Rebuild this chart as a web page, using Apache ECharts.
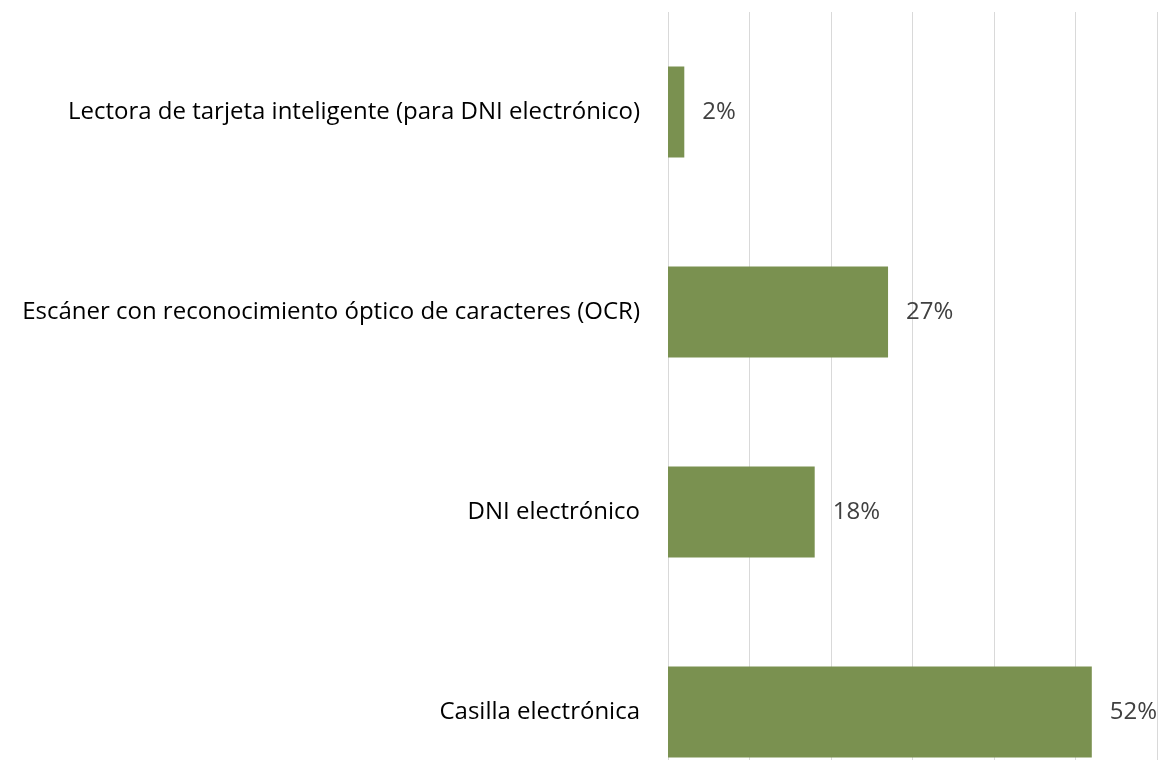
<!DOCTYPE html>
<html>
<head>
<meta charset="utf-8">
<script src="https://cdn.jsdelivr.net/npm/echarts@6/dist/echarts.min.js"></script>
<style>
  html, body { margin: 0; padding: 0; background: #ffffff; overflow: hidden; }
  #chart { width: 1167px; height: 812px; }
</style>
</head>
<body>
<div id="chart"></div>
<script>
// Categories (top to bottom) and their shares in percent
const categories = [
  'Lectora de tarjeta inteligente (para DNI electrónico)',
  'Escáner con reconocimiento óptico de caracteres (OCR)',
  'DNI electrónico',
  'Casilla electrónica'
];
const shares = [2, 27, 18, 52];

const chart = echarts.init(document.getElementById('chart'));
chart.setOption({
  animation: false,
  backgroundColor: '#ffffff',
  grid: { left: 668, right: 10, top: 12, bottom: 0, containLabel: false },
  xAxis: {
    type: 'value',
    min: 0,
    max: 60,
    interval: 10,
    axisLine: { show: false },
    axisTick: { show: false },
    axisLabel: { show: false },
    splitLine: { show: true, lineStyle: { color: '#d9d9d9', width: 1 } }
  },
  yAxis: {
    type: 'category',
    data: categories,
    inverse: true,
    axisLine: { show: false },
    axisTick: { show: false },
    axisLabel: {
      margin: 28,
      color: '#000000',
      fontFamily: 'Open Sans',
      fontSize: 24
    }
  },
  series: [{
    type: 'bar',
    data: shares,
    barWidth: 91,
    itemStyle: { color: '#7a9150' },
    label: {
      show: true,
      position: 'right',
      distance: 18,
      formatter: '{c}%',
      color: '#404040',
      fontFamily: 'Open Sans',
      fontSize: 24
    }
  }]
});
</script>
</body>
</html>
